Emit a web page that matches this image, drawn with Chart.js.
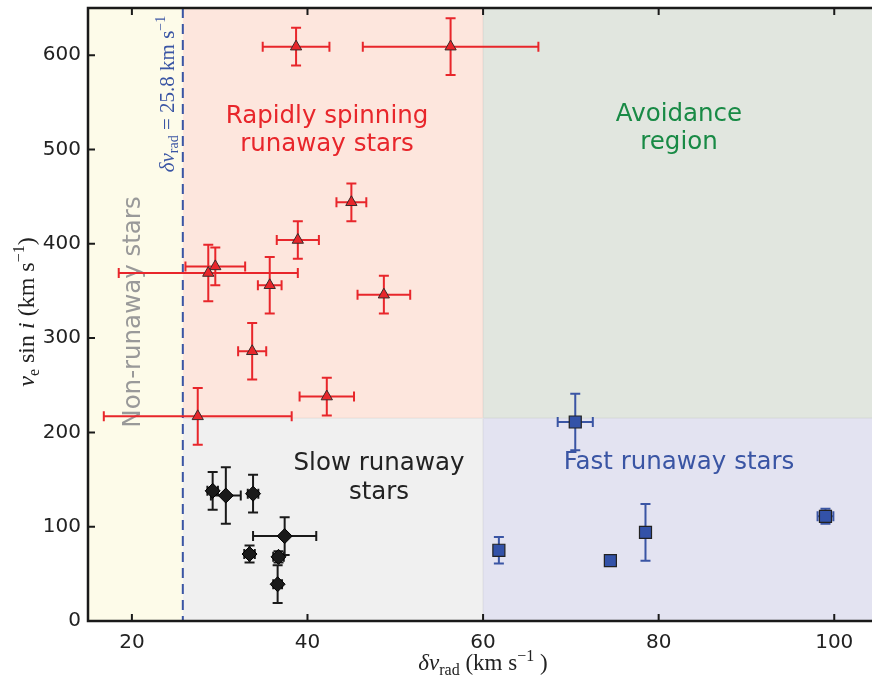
<!DOCTYPE html>
<html>
<head>
<meta charset="utf-8">
<script src="https://cdn.jsdelivr.net/npm/chart.js@4.4.1/dist/chart.umd.min.js"></script>
<style>
  html, body { margin: 0; padding: 0; background: #ffffff; }
  #wrap { width: 872px; height: 679px; }
</style>
</head>
<body>
<div id="wrap"><canvas id="c" width="872" height="679"></canvas></div>
<script>
// Rapidly spinning runaway stars (triangles)
const rapidX    = [38.7, 56.3, 45.0, 38.9, 29.5, 28.7, 35.7, 48.7, 33.7, 42.2, 27.5];
const rapidY    = [609, 609, 444, 404, 376, 369, 356, 346, 286, 238, 217];
const rapidXErr = [3.8, 10.0, 1.7, 2.4, 3.4, 10.2, 1.35, 3.0, 1.6, 3.1, 10.7];
const rapidYErr = [20, 30, 20, 20, 20, 30, 30, 20, 30, 20, 30];

// Slow runaway stars (diamonds)
const slowX    = [29.2, 30.7, 33.8, 37.4, 33.4, 36.7, 36.6];
const slowY    = [138, 133, 135, 90, 71, 68, 39];
const slowXErr = [0.6, 1.7, 0.6, 3.6, 0.6, 0.6, 0.5];
const slowYErr = [20, 30, 20, 20, 9, 6, 20];

// Fast runaway stars (squares)
const fastX    = [70.5, 61.8, 74.5, 78.5, 99.0];
const fastY    = [211, 75, 64, 94, 111];
const fastXErr = [2.0, 0.4, 0.6, 0.0, 0.9];
const fastYErr = [30, 14, 4, 30, 8];

// Axis ticks and region boundaries
const xTicks = [20, 40, 60, 80, 100];
const yTicks = [0, 100, 200, 300, 400, 500, 600];
const dvLimit = 25.8;     // radial-velocity variation threshold
const fastLimit = 60;     // fast/slow split in delta v_rad
const spinLimit = 215;    // slow/rapid rotation split in v_e sin i

const RED = '#e8262b', BLACK = '#1a1a1a', BLUE = '#3a55a4';

function toPoints(xs, ys) { return xs.map((x, i) => ({ x: x, y: ys[i] })); }

// Mixed roman / italic / sub / superscript text, as used by the axis titles
function drawRuns(ctx, runs, cx, cy, size, color, rot) {
  ctx.save();
  ctx.translate(cx, cy);
  ctx.rotate(rot || 0);
  const fontFor = r => (r.it ? 'italic ' : '') + Math.round((r.sub || r.sup) ? size * 0.7 : size) + 'px "Liberation Serif", "DejaVu Serif", serif';
  let total = 0;
  runs.forEach(r => { ctx.font = fontFor(r); r.w = ctx.measureText(r.t).width; total += r.w; });
  let x = -total / 2;
  ctx.fillStyle = color;
  ctx.textBaseline = 'alphabetic';
  ctx.textAlign = 'left';
  runs.forEach(r => {
    ctx.font = fontFor(r);
    const dy = r.sub ? size * 0.22 : (r.sup ? -size * 0.42 : 0);
    ctx.fillText(r.t, x, size * 0.32 + dy);
    x += r.w;
  });
  ctx.restore();
}

function drawErrorBars(ctx, xs, ys, xe, ye, sx, sy, color) {
  const cap = 5;
  ctx.save();
  ctx.strokeStyle = color;
  ctx.lineWidth = 2;
  for (let i = 0; i < xs.length; i++) {
    const px = sx.getPixelForValue(xs[i]), py = sy.getPixelForValue(ys[i]);
    if (ye[i] > 0) {
      const t = sy.getPixelForValue(ys[i] + ye[i]), b = sy.getPixelForValue(ys[i] - ye[i]);
      ctx.beginPath();
      ctx.moveTo(px, t); ctx.lineTo(px, b);
      ctx.moveTo(px - cap, t); ctx.lineTo(px + cap, t);
      ctx.moveTo(px - cap, b); ctx.lineTo(px + cap, b);
      ctx.stroke();
    }
    if (xe[i] > 0) {
      const l = sx.getPixelForValue(xs[i] - xe[i]), r = sx.getPixelForValue(xs[i] + xe[i]);
      ctx.beginPath();
      ctx.moveTo(l, py); ctx.lineTo(r, py);
      ctx.moveTo(l, py - cap); ctx.lineTo(l, py + cap);
      ctx.moveTo(r, py - cap); ctx.lineTo(r, py + cap);
      ctx.stroke();
    }
  }
  ctx.restore();
}

const backdrop = {
  id: 'backdrop',
  beforeDatasetsDraw(chart) {
    const { ctx, chartArea: a, scales: { x, y } } = chart;
    const xL = x.getPixelForValue(dvLimit), xF = x.getPixelForValue(fastLimit);
    const yS = y.getPixelForValue(spinLimit);
    ctx.save();
    ctx.beginPath(); ctx.rect(a.left, a.top, a.right - a.left, a.bottom - a.top); ctx.clip();

    // shaded regions
    ctx.fillStyle = '#fdfbe9'; ctx.fillRect(a.left, a.top, xL - a.left, a.bottom - a.top);
    ctx.fillStyle = '#fde6dd'; ctx.fillRect(xL, a.top, xF - xL, yS - a.top);
    ctx.fillStyle = '#e1e6df'; ctx.fillRect(xF, a.top, a.right - xF, yS - a.top);
    ctx.fillStyle = '#f0f0f0'; ctx.fillRect(xL, yS, xF - xL, a.bottom - yS);
    ctx.fillStyle = '#e3e3f1'; ctx.fillRect(xF, yS, a.right - xF, a.bottom - yS);

    // faint region edges
    ctx.strokeStyle = 'rgba(0,0,0,0.05)';
    ctx.lineWidth = 1.5;
    ctx.beginPath();
    ctx.moveTo(xL, yS); ctx.lineTo(a.right, yS);
    ctx.moveTo(xF, a.top); ctx.lineTo(xF, a.bottom);
    ctx.stroke();

    // region labels
    ctx.textAlign = 'center';
    ctx.textBaseline = 'alphabetic';
    ctx.font = '24.5px "DejaVu Sans"';
    ctx.fillStyle = RED;
    ctx.fillText('Rapidly spinning', 327, 123);
    ctx.fillText('runaway stars', 327, 151);
    ctx.fillStyle = '#188a45';
    ctx.fillText('Avoidance', 679, 121);
    ctx.fillText('region', 679, 149);
    ctx.fillStyle = '#222222';
    ctx.fillText('Slow runaway', 379, 470);
    ctx.fillText('stars', 379, 499);
    ctx.fillStyle = BLUE;
    ctx.fillText('Fast runaway stars', 679, 469);
    ctx.save();
    ctx.translate(140, 312);
    ctx.rotate(-Math.PI / 2);
    ctx.fillStyle = '#999999';
    ctx.fillText('Non-runaway stars', 0, 0);
    ctx.restore();

    // threshold line
    ctx.strokeStyle = BLUE;
    ctx.lineWidth = 2;
    ctx.setLineDash([10, 6]);
    ctx.beginPath(); ctx.moveTo(xL, a.top); ctx.lineTo(xL, a.bottom); ctx.stroke();
    ctx.setLineDash([]);
    drawRuns(ctx, [
      { t: 'δv', it: true }, { t: 'rad', sub: true }, { t: ' = 25.8 km s' }, { t: '−1', sup: true }
    ], 167, 94, 20.5, BLUE, -Math.PI / 2);

    // error bars
    drawErrorBars(ctx, rapidX, rapidY, rapidXErr, rapidYErr, x, y, RED);
    drawErrorBars(ctx, slowX, slowY, slowXErr, slowYErr, x, y, BLACK);
    drawErrorBars(ctx, fastX, fastY, fastXErr, fastYErr, x, y, BLUE);
    ctx.restore();
  },
  afterDraw(chart) {
    const { ctx, chartArea: a, scales: { x, y } } = chart;
    ctx.save();
    ctx.strokeStyle = '#1a1a1a';
    ctx.lineWidth = 2.5;
    ctx.beginPath();
    ctx.moveTo(a.right + 2, a.top); ctx.lineTo(a.left, a.top);
    ctx.lineTo(a.left, a.bottom); ctx.lineTo(a.right + 2, a.bottom);
    ctx.stroke();
    // inward ticks
    ctx.lineWidth = 2;
    ctx.beginPath();
    xTicks.forEach(v => {
      const px = x.getPixelForValue(v);
      ctx.moveTo(px, a.bottom); ctx.lineTo(px, a.bottom - 7);
      ctx.moveTo(px, a.top); ctx.lineTo(px, a.top + 7);
    });
    yTicks.forEach(v => {
      const py = y.getPixelForValue(v);
      ctx.moveTo(a.left, py); ctx.lineTo(a.left + 7, py);
    });
    ctx.stroke();
    // axis titles
    drawRuns(ctx, [
      { t: 'δv', it: true }, { t: 'rad', sub: true }, { t: ' (km s' }, { t: '−1', sup: true }, { t: ' )' }
    ], 483, 663, 23, '#222222', 0);
    drawRuns(ctx, [
      { t: 'v', it: true }, { t: 'e', sub: true }, { t: ' sin ' }, { t: 'i', it: true },
      { t: ' (km s' }, { t: '−1', sup: true }, { t: ')' }
    ], 26, 312, 23.5, '#222222', -Math.PI / 2);
    ctx.restore();
  }
};

Chart.defaults.font.family = '"DejaVu Sans", sans-serif';
Chart.defaults.color = '#222222';

new Chart(document.getElementById('c'), {
  type: 'scatter',
  data: {
    datasets: [
      {
        label: 'Rapidly spinning runaway stars',
        data: toPoints(rapidX, rapidY),
        pointStyle: 'triangle', pointRadius: 6.5,
        backgroundColor: RED, borderColor: '#3a2a2a', borderWidth: 1
      },
      {
        label: 'Slow runaway stars',
        data: toPoints(slowX, slowY),
        pointStyle: 'rectRot', pointRadius: 7.5,
        backgroundColor: BLACK, borderColor: '#000000', borderWidth: 1
      },
      {
        label: 'Fast runaway stars',
        data: toPoints(fastX, fastY),
        pointStyle: 'rect', pointRadius: 8.5,
        backgroundColor: '#3352a8', borderColor: '#222222', borderWidth: 1.2
      }
    ]
  },
  options: {
    responsive: false,
    animation: false,
    events: [],
    layout: { autoPadding: false, padding: { left: 0, right: 0, top: 8, bottom: 0 } },
    plugins: { legend: { display: false }, tooltip: { enabled: false } },
    scales: {
      x: {
        type: 'linear', min: 15, max: 104.3,
        grid: { display: false, drawTicks: false },
        border: { display: false },
        afterBuildTicks: s => { s.ticks = xTicks.map(v => ({ value: v })); },
        afterFit: s => { s.height = 58; s.paddingLeft = 0; s.paddingRight = 0; },
        ticks: { padding: 10, font: { size: 20 }, color: '#222222' }
      },
      y: {
        type: 'linear', min: 0, max: 650,
        grid: { display: false, drawTicks: false },
        border: { display: false },
        afterBuildTicks: s => { s.ticks = yTicks.map(v => ({ value: v })); },
        afterFit: s => { s.width = 88; s.paddingTop = 0; s.paddingBottom = 0; },
        ticks: { padding: 7, font: { size: 20 }, color: '#222222' }
      }
    }
  },
  plugins: [backdrop]
});
</script>
</body>
</html>
